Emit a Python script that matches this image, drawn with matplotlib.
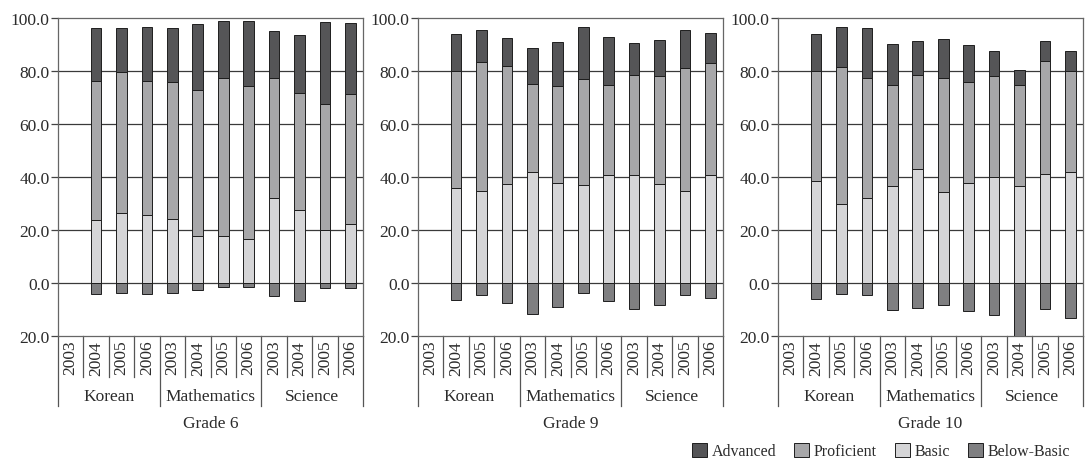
import numpy as np
import matplotlib
matplotlib.use("Agg")
import matplotlib.pyplot as plt
from matplotlib.lines import Line2D
from matplotlib.patches import Patch
from matplotlib.ticker import FuncFormatter

plt.rcParams["font.family"] = "serif"
plt.rcParams["font.serif"] = ["Liberation Serif", "DejaVu Serif"]

grades = ["Grade 6", "Grade 9", "Grade 10"]
subjects = ["Korean", "Mathematics", "Science"]
years = ["2003", "2004", "2005", "2006"]

# per grade, 12 slots: Korean 2003-2006, Mathematics 2003-2006, Science 2003-2006
# (no Korean 2003 data -> None)
basic = {
    "Grade 6": [None, 23.8, 26.3, 25.7, 24.1, 17.9, 17.6, 16.6, 32.1, 27.6, 20.0, 22.4],
    "Grade 9": [None, 35.8, 34.9, 37.4, 41.8, 37.8, 36.9, 40.8, 40.8, 37.4, 34.6, 40.8],
    "Grade 10": [None, 38.5, 29.8, 32.0, 36.5, 42.9, 34.3, 37.9, 39.9, 36.5, 41.2, 41.7],
}
proficient = {
    "Grade 6": [None, 52.6, 53.5, 50.7, 51.7, 54.8, 59.9, 57.7, 45.4, 44.2, 47.6, 49.1],
    "Grade 9": [None, 44.3, 48.5, 44.3, 33.3, 36.6, 40.2, 34.1, 37.8, 40.7, 46.5, 42.2],
    "Grade 10": [None, 41.6, 51.7, 45.3, 38.1, 35.7, 43.0, 37.8, 38.4, 38.1, 42.6, 38.4],
}
advanced = {
    "Grade 6": [None, 19.8, 16.4, 20.1, 20.4, 25.2, 21.4, 24.6, 17.6, 21.8, 30.9, 26.6],
    "Grade 9": [None, 13.7, 12.2, 10.7, 13.6, 16.5, 19.5, 17.9, 12.1, 13.7, 14.2, 11.3],
    "Grade 10": [None, 13.9, 15.1, 18.9, 15.7, 12.7, 14.6, 14.2, 9.2, 5.8, 7.5, 7.4],
}
below_basic = {
    "Grade 6": [None, -4.2, -3.7, -4.3, -3.8, -2.5, -1.4, -1.6, -4.9, -6.7, -2.0, -2.0],
    "Grade 9": [None, -6.4, -4.7, -7.6, -11.7, -9.1, -3.9, -6.9, -9.8, -8.3, -4.7, -5.7],
    "Grade 10": [None, -6.0, -4.2, -4.7, -10.2, -9.6, -8.4, -10.5, -12.1, -21.0, -9.9, -13.3],
}

colors = {
    "Advanced": "#555557",
    "Proficient": "#a7a7a9",
    "Basic": "#d5d5d7",
    "Below-Basic": "#7f7f81",
}
text_color = "#2b2b2b"
fs = 12.5

fig = plt.figure(figsize=(10.88, 4.6), dpi=100)
lefts = [58, 418, 778]
W, H = 1088, 460

for grade, left in zip(grades, lefts):
    ax = fig.add_axes([left / W, (H - 337) / H, 305 / W, 318 / H])
    n = len(subjects) * len(years)
    x = np.arange(n) + 0.5
    b = np.array([np.nan if v is None else v for v in basic[grade]])
    p = np.array([np.nan if v is None else v for v in proficient[grade]])
    a = np.array([np.nan if v is None else v for v in advanced[grade]])
    bb = np.array([np.nan if v is None else v for v in below_basic[grade]])
    m = ~np.isnan(b)
    kw = dict(width=0.42, edgecolor="#1e1e1e", linewidth=0.7, zorder=3)
    ax.bar(x[m], b[m], color=colors["Basic"], **kw)
    ax.bar(x[m], p[m], bottom=b[m], color=colors["Proficient"], **kw)
    ax.bar(x[m], a[m], bottom=b[m] + p[m], color=colors["Advanced"], **kw)
    ax.bar(x[m], bb[m], color=colors["Below-Basic"], **kw)

    ax.set_xlim(0, n)
    ax.set_ylim(-20, 100)
    ax.set_yticks(np.arange(-20, 101, 20))
    ax.yaxis.set_major_formatter(FuncFormatter(lambda v, pos: f"{abs(v):.1f}"))
    ax.tick_params(axis="y", labelsize=fs, colors="#444444", labelcolor=text_color,
                   length=5, width=0.9, pad=1)
    ax.set_xticks([])
    for v in [0, 20, 40, 60, 80]:
        ax.axhline(v, color="#3a3a3a", linewidth=0.9, zorder=1)
    for s in ax.spines.values():
        s.set_color("#666666")
        s.set_linewidth(0.9)

    tr = ax.get_xaxis_transform()
    for i in range(n):
        ax.text(x[i], -0.012, years[i % 4], rotation=90, ha="center", va="top",
                fontsize=fs, color=text_color, transform=tr)
    for i in range(n + 1):
        depth = -0.22 if i % 4 == 0 else -0.13
        ax.add_line(Line2D([i, i], [0, depth], transform=tr, clip_on=False,
                           color="#555555", linewidth=0.9))
    for j, subj in enumerate(subjects):
        ax.text(j * 4 + 2, -0.19, subj, ha="center", va="center",
                fontsize=fs, color=text_color, transform=tr)
    ax.text(0.5, -0.275, grade, ha="center", va="center", fontsize=fs,
            color=text_color, transform=ax.transAxes)

handles = [Patch(facecolor=c, edgecolor="#1e1e1e", linewidth=0.7) for c in colors.values()]
fig.legend(handles, list(colors.keys()), loc="center right", bbox_to_anchor=(1070 / W, 8 / H),
           ncol=4, frameon=False, fontsize=11.5, handlelength=0.95, handleheight=0.95,
           handletextpad=0.3, columnspacing=1.1, borderaxespad=0.0, borderpad=0.0,
           labelcolor=text_color)

fig.savefig("out.png", dpi=100)
